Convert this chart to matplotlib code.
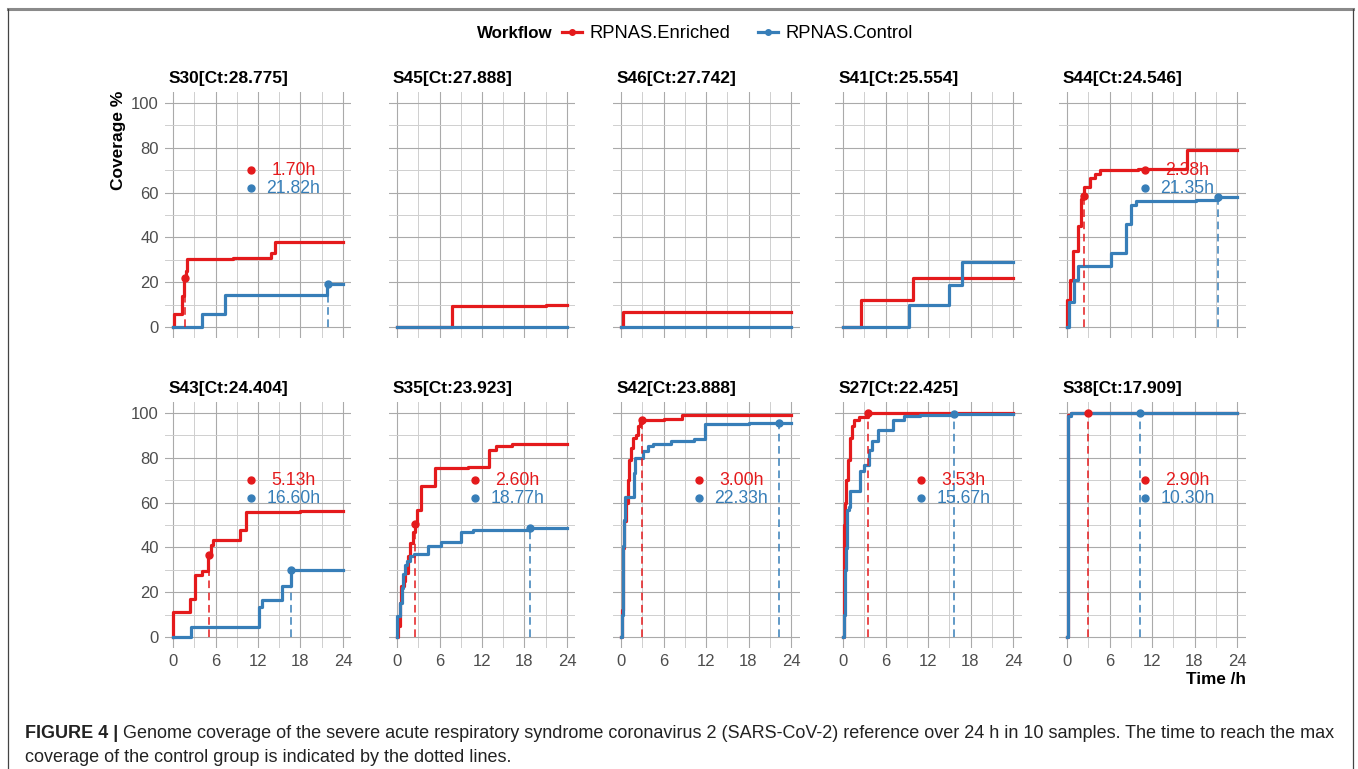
import numpy as np
import matplotlib.pyplot as plt
from matplotlib.lines import Line2D

plt.rcParams['font.family'] = ['Liberation Sans', 'DejaVu Sans']

# samples in panel order (row by row)
samples = ['S30', 'S45', 'S46', 'S41', 'S44', 'S43', 'S35', 'S42', 'S27', 'S38']
ct_values = ['28.775', '27.888', '27.742', '25.554', '24.546',
             '24.404', '23.923', '23.888', '22.425', '17.909']

# step curves: time (h) where coverage (%) changes
enr_t = [
    [0, 0.2, 1.3, 1.5, 1.8, 2.0, 8.5, 13.9, 14.35, 24],
    [0, 7.75, 21.0, 24],
    [0, 0.3, 24],
    [0, 2.6, 9.9, 24],
    [0, 0.05, 0.37, 0.8, 1.6, 1.96, 2.24, 2.4, 3.2, 4.0, 4.6, 10, 16.9, 24],
    [0, 0.02, 2.34, 3.14, 4.08, 5.0, 5.4, 5.7, 9.4, 10.27, 18, 24],
    [0, 0.19, 0.38, 0.56, 0.94, 1.18, 1.5, 1.79, 2.26, 2.5, 2.82, 3.39, 5.32, 10, 12.94, 14.0, 16.2, 24],
    [0, 0.1, 0.24, 0.47, 0.7, 0.94, 1.18, 1.41, 1.74, 2.1, 2.45, 2.73, 2.9, 6, 8.56, 24],
    [0, 0.09, 0.19, 0.28, 0.47, 0.7, 1.03, 1.27, 1.55, 2.25, 3.5, 24],
    [0, 0.1, 0.5, 24],
]
enr_cov = [
    [0, 6, 14, 22, 25, 30.5, 31, 33, 38, 38],
    [0, 9.5, 10, 10],
    [0, 6.5, 6.5],
    [0, 12, 22, 22],
    [0, 12, 21, 34, 45, 57, 58.3, 62.5, 66.5, 68.5, 70.2, 70.6, 78.9, 78.9],
    [0, 11, 17, 27.5, 29.6, 36.8, 41.2, 43.2, 47.6, 55.7, 56.1, 56.1],
    [0, 5, 15, 22.9, 25, 28.6, 36, 42, 46.7, 50.6, 56.8, 67.6, 75.4, 76, 83.6, 85.1, 86.3, 86.3],
    [0, 12, 39.7, 51.6, 59.8, 70.2, 79.2, 84.4, 88.8, 90.3, 94, 95.5, 97, 97.5, 99.2, 99.2],
    [0, 10, 50, 59.8, 70.2, 79.2, 88.8, 94, 97, 98.1, 99.9, 99.9],
    [0, 99, 99.9, 99.9],
]
ctrl_t = [
    [0, 4.14, 7.34, 21.8, 24],
    [0, 24],
    [0, 24],
    [0, 9.3, 14.9, 16.8, 24],
    [0, 0.28, 0.93, 1.6, 6.16, 8.3, 8.97, 9.8, 18.2, 21.3, 24],
    [0, 2.53, 12.19, 12.5, 15.4, 16.6, 24],
    [0, 0.02, 0.38, 0.66, 0.85, 1.18, 1.41, 1.88, 2.35, 4.33, 6.2, 9.04, 10.8, 18.7, 24],
    [0, 0.1, 0.33, 0.47, 0.6, 1.79, 2.0, 3.06, 3.76, 4.47, 7.06, 10.35, 11.9, 18, 24],
    [0, 0.09, 0.23, 0.38, 0.56, 0.84, 1.03, 2.44, 2.9, 3.6, 4.1, 4.9, 7.1, 8.67, 10.8, 15.6, 24],
    [0, 0.1, 0.5, 24],
]
ctrl_cov = [
    [0, 6, 14.4, 19.2, 19.2],
    [0, 0],
    [0, 0],
    [0, 10, 18.8, 29.2, 29.2],
    [0, 11, 21, 27.1, 33, 45.8, 54.6, 56.1, 56.8, 57.9, 57.9],
    [0, 4.5, 13.5, 16.4, 22.9, 30.1, 30.1],
    [0, 9.5, 15, 22, 28.3, 32, 33.8, 36, 37.2, 40.8, 42.3, 46.7, 47.9, 48.5, 48.5],
    [0, 10, 40.5, 52.4, 62.5, 73.2, 79.9, 82.9, 85.1, 86.3, 87.4, 88.4, 95.2, 95.5, 95.5],
    [0, 10, 30, 39.7, 56.8, 58, 65, 74, 76.9, 83.6, 87.6, 92.6, 97, 98.5, 99, 99.5, 99.5],
    [0, 98.6, 99.8, 99.8],
]

# time to reach the control group's max coverage (None = not reached)
enr_time = [1.70, None, None, None, 2.38, 5.13, 2.60, 3.00, 3.53, 2.90]
ctrl_time = [21.82, None, None, None, 21.35, 16.60, 18.77, 22.33, 15.67, 10.30]

RED = '#E41A1C'
BLUE = '#377EB8'
W, H = 1358, 769


def value_at(t, cov, when):
    i = np.searchsorted(np.asarray(t), when + 1e-9, side='right') - 1
    return cov[i]


fig = plt.figure(figsize=(W / 100, H / 100), dpi=100)

col_x0 = [173, 397, 621, 843, 1067]
row_y0 = [327, 637]
px_h = 170 / 24
px_c = 2.24

for k, name in enumerate(samples):
    r, c = divmod(k, 5)
    left = col_x0[c] - 1.2 * px_h
    bottom = row_y0[r] + 5 * px_c
    ax = fig.add_axes([left / W, 1 - bottom / H, 26.4 * px_h / W, 110 * px_c / H])
    ax.set_xlim(-1.2, 25.2)
    ax.set_ylim(-5, 105)
    for s in ax.spines.values():
        s.set_visible(False)
    ax.set_xticks([0, 6, 12, 18, 24])
    ax.set_xticks([3, 9, 15, 21], minor=True)
    ax.set_yticks(range(0, 101, 20))
    ax.set_yticks(range(10, 100, 20), minor=True)
    ax.grid(which='major', color='#aaaaaa', lw=0.8)
    ax.grid(which='minor', color='#cfcfcf', lw=0.7)
    ax.set_axisbelow(True)
    ax.tick_params(which='both', length=0, labelsize=12, colors='#4d4d4d', pad=4)
    ax.tick_params(labelleft=(c == 0), labelbottom=(r == 1))
    ax.set_title(f'{name}[Ct:{ct_values[k]}]', loc='left', fontsize=12.5,
                 fontweight='bold', pad=6, x=0.02)

    ax.step(enr_t[k], enr_cov[k], where='post', color=RED, lw=2.3, zorder=3)
    ax.step(ctrl_t[k], ctrl_cov[k], where='post', color=BLUE, lw=2.3, zorder=3)

    for tt, cc, when, col, ly in [(enr_t[k], enr_cov[k], enr_time[k], RED, 70),
                                  (ctrl_t[k], ctrl_cov[k], ctrl_time[k], BLUE, 62)]:
        if when is None:
            continue
        v = value_at(tt, cc, when)
        ax.plot([when, when], [0, v], color=col, lw=1.1, ls=(0, (5, 3)), zorder=4)
        ax.plot(when, v, 'o', color=col, ms=5, zorder=5)
        ax.plot(11, ly, 'o', color=col, ms=5, zorder=5)
        ax.text(17, ly, f'{when:.2f}h', color=col, fontsize=12.7,
                ha='center', va='center', zorder=5)

# axis titles
fig.text(118 / W, 1 - 140 / H, 'Coverage %', rotation=90, fontsize=12.5,
         fontweight='bold', ha='center', va='center')
fig.text(1246 / W, 1 - 680 / H, 'Time /h', fontsize=12.3, fontweight='bold',
         ha='right', va='center')

# legend row
fig.text(477 / W, 1 - 33 / H, 'Workflow', fontsize=12.2, fontweight='bold',
         ha='left', va='center')
handles = [Line2D([], [], color=RED, lw=2.3, marker='o', ms=4),
           Line2D([], [], color=BLUE, lw=2.3, marker='o', ms=4)]
fig.legend(handles, ['RPNAS.Enriched', 'RPNAS.Control'], loc='center left',
           bbox_to_anchor=(562 / W, 1 - 34 / H), ncol=2, frameon=False,
           fontsize=13.2, handlelength=1.1, handletextpad=0.4,
           columnspacing=1.5, borderpad=0, borderaxespad=0)

# frame
fig.add_artist(Line2D([8 / W, 1353 / W], [1 - 9 / H] * 2, color='#8a8a8a', lw=2.2,
                      transform=fig.transFigure))
for xb in (8, 1353):
    fig.add_artist(Line2D([xb / W] * 2, [1 - 9 / H, 0], color='#444444', lw=0.9,
                          transform=fig.transFigure))

# caption
cap_size = 13.0
cap_bold = fig.text(25 / W, 1 - 734 / H, 'FIGURE 4 |', fontsize=cap_size,
                    fontweight='bold', ha='left', va='center', color='#222222')
renderer = fig.canvas.get_renderer()
bb = cap_bold.get_window_extent(renderer)
fig.text((bb.x1 + 5) / W, 1 - 734 / H,
         'Genome coverage of the severe acute respiratory syndrome coronavirus 2 '
         '(SARS-CoV-2) reference over 24 h in 10 samples. The time to reach the max',
         fontsize=cap_size, ha='left', va='center', color='#222222')
fig.text(25 / W, 1 - 757 / H,
         'coverage of the control group is indicated by the dotted lines.',
         fontsize=cap_size, ha='left', va='center', color='#222222')

fig.savefig('out.png', dpi=100)
